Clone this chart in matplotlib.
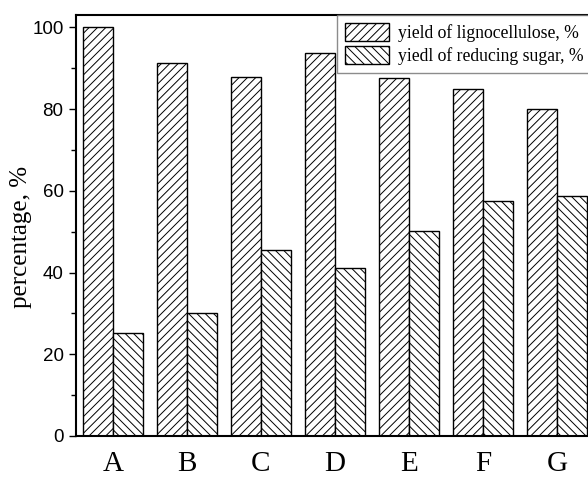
import numpy as np
import matplotlib
matplotlib.use("Agg")
import matplotlib.pyplot as plt
from matplotlib.ticker import MultipleLocator

samples = ["A", "B", "C", "D", "E", "F", "G"]
lignocellulose = [100.0, 91.3, 87.8, 93.8, 87.6, 85.0, 80.0]
reducing_sugar = [25.1, 30.1, 45.4, 41.0, 50.2, 57.6, 58.8]
labels = ["yield of lignocellulose, %", "yiedl of reducing sugar, %"]

plt.rcParams['hatch.linewidth'] = 0.7

fig = plt.figure(figsize=(5.88, 4.78), dpi=100)
# axes runs a little past the right edge of the figure
ax = fig.add_axes([76 / 588, 42 / 478, 518 / 588, 421 / 478])

x = np.arange(len(samples))
w = 0.405
ax.bar(x - w / 2, lignocellulose, w, color="white", edgecolor="black",
       linewidth=1.0, hatch="////", label=labels[0])
ax.bar(x + w / 2, reducing_sugar, w, color="white", edgecolor="black",
       linewidth=1.0, hatch="\\\\\\\\", label=labels[1])

ax.set_xlim(-0.5, 6.5)
ax.set_ylim(0, 103)
ax.set_xticks(x)
ax.set_xticklabels(samples, fontfamily="Liberation Serif", fontsize=21)
ax.tick_params(axis="x", length=0, pad=11)

ax.yaxis.set_major_locator(MultipleLocator(20))
ax.yaxis.set_minor_locator(MultipleLocator(10))
ax.tick_params(axis="y", which="major", length=5, width=1.0, direction="out", pad=4)
ax.tick_params(axis="y", which="minor", length=3.5, width=1.0, direction="out")
for t in ax.get_yticklabels():
    t.set_fontfamily("Liberation Sans")
    t.set_fontsize(13.5)

ax.set_ylabel("percentage, %", fontfamily="Liberation Serif", fontsize=18)
ax.yaxis.set_label_coords(-0.085, 0.473)

for s in ["left", "top", "bottom", "right"]:
    ax.spines[s].set_linewidth(1.5)

leg = ax.legend(loc="upper left", bbox_to_anchor=(337 / 588, 463 / 478),
                bbox_transform=fig.transFigure, borderaxespad=0,
                prop={"family": "Liberation Serif", "size": 12.7},
                handlelength=2.5, handleheight=1.2, handletextpad=0.5,
                labelspacing=0.25, borderpad=0.45, fancybox=False)
leg.get_frame().set_edgecolor("#707070")
leg.get_frame().set_linewidth(1.0)

fig.savefig("out.png", dpi=100)
